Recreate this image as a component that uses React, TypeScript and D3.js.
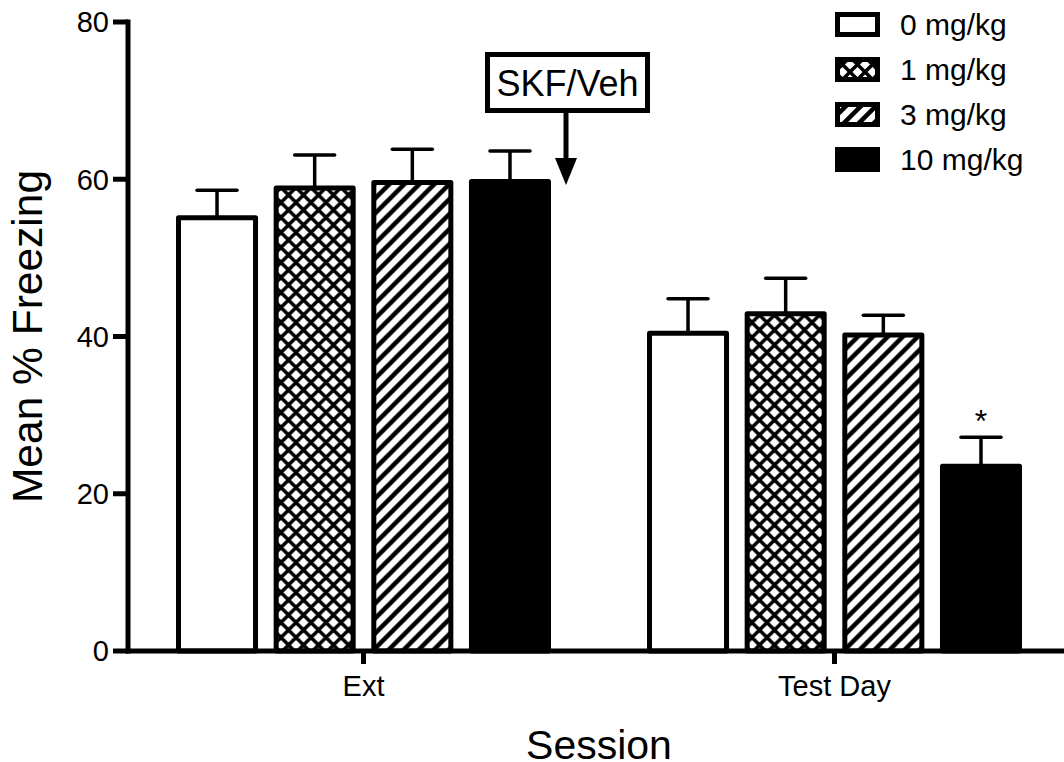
import React from "react";
import * as d3 from "d3";

const sessions = ["Ext", "Test Day"];
const series = ["0 mg/kg", "1 mg/kg", "3 mg/kg", "10 mg/kg"];
const meanExt = [55.1, 58.9, 59.6, 59.7];
const semExt = [3.5, 4.2, 4.2, 3.9];
const meanTest = [40.4, 42.9, 40.2, 23.5];
const semTest = [4.4, 4.5, 2.5, 3.7];
const yTicks = [0, 20, 40, 60, 80];
const fills = ["#fff", "url(#cross)", "url(#hatch)", "#000"];

const W = 1064, H = 762;
const FONT = "Arial, 'Liberation Sans', Helvetica, sans-serif";

export default function App() {
  const y = d3.scaleLinear().domain([0, 80]).range([651, 22]);
  const x0 = d3.scalePoint<string>().domain(sessions).range([128, 1070]).padding(0.5);
  const x1 = d3.scaleBand<string>().domain(series).range([-187.5, 187.5]).paddingInner(0.16).paddingOuter(0);
  const bw = x1.bandwidth();
  const data = [
    { s: "Ext", means: meanExt, sems: semExt },
    { s: "Test Day", means: meanTest, sems: semTest },
  ];
  const sw = 5;
  return (
    <svg width={W} height={H} style={{ display: "block", position: "absolute", left: 0, top: 0 }}>
      <defs>
        <pattern id="hatch" patternUnits="userSpaceOnUse" width={15} height={15}>
          <rect width={15} height={15} fill="#fff" />
          <path d="M-4,4 L4,-4 M0,15 L15,0 M11,19 L19,11" stroke="#000" strokeWidth={4.5} />
        </pattern>
        <pattern id="cross" patternUnits="userSpaceOnUse" width={15} height={15}>
          <rect width={15} height={15} fill="#fff" />
          <path d="M-4,4 L4,-4 M0,15 L15,0 M11,19 L19,11 M-4,11 L4,19 M0,0 L15,15 M11,-4 L19,4" stroke="#000" strokeWidth={3.5} />
        </pattern>
      </defs>
      <rect width={W} height={H} fill="#fff" />
      {data.map((g) => (
        <g key={g.s} transform={`translate(${x0(g.s)},0)`}>
          {series.map((sr, i) => {
            const xl = (x1(sr) as number) + sw / 2;
            const w = bw - sw;
            const top = y(g.means[i]);
            const errTop = y(g.means[i] + g.sems[i]);
            const cx = (x1(sr) as number) + bw / 2;
            return (
              <g key={sr}>
                <line x1={cx} x2={cx} y1={top} y2={errTop} stroke="#000" strokeWidth={3.5} />
                <line x1={cx - 20} x2={cx + 20} y1={errTop} y2={errTop} stroke="#000" strokeWidth={3.5} strokeLinecap="round" />
                <rect x={xl} y={top} width={w} height={y(0) - top} fill={fills[i]} stroke="#000" strokeWidth={sw} strokeLinejoin="round" />
              </g>
            );
          })}
        </g>
      ))}
      <text x={(x0("Test Day") as number) + (x1("10 mg/kg") as number) + bw / 2} y={y(meanTest[3] + semTest[3]) - 5} fontFamily={FONT} fontSize={32} textAnchor="middle">*</text>
      <line x1={128} x2={128} y1={y(80) - 2.5} y2={y(0) + 2.5} stroke="#000" strokeWidth={5} />
      {yTicks.map((t) => (
        <g key={t}>
          <line x1={113} x2={128} y1={y(t)} y2={y(t)} stroke="#000" strokeWidth={5} />
          <text x={109} y={y(t)} dy="0.36em" textAnchor="end" fontFamily={FONT} fontSize={29}>{t}</text>
        </g>
      ))}
      <line x1={126} x2={1064} y1={y(0)} y2={y(0)} stroke="#000" strokeWidth={5} />
      {sessions.map((s) => (
        <g key={s}>
          <line x1={x0(s)} x2={x0(s)} y1={y(0)} y2={y(0) + 13} stroke="#000" strokeWidth={5} />
          <text x={x0(s)} y={y(0) + 45} textAnchor="middle" fontFamily={FONT} fontSize={29}>{s}</text>
        </g>
      ))}
      <text x={599} y={759} textAnchor="middle" fontFamily={FONT} fontSize={41}>Session</text>
      <text transform={`translate(42,${y(40)}) rotate(-90)`} textAnchor="middle" fontFamily={FONT} fontSize={42.5}>Mean % Freezing</text>
      <rect x={487.5} y={54.5} width={160} height={56} fill="#fff" stroke="#000" strokeWidth={5} />
      <text x={567.5} y={96} textAnchor="middle" fontFamily={FONT} fontSize={36}>SKF/Veh</text>
      <line x1={566} x2={566} y1={113} y2={160} stroke="#000" strokeWidth={5} />
      <path d="M555,158 L577,158 L566,185 Z" fill="#000" />
      {series.map((sr, i) => (
        <g key={sr} transform={`translate(835,${12 + i * 45})`}>
          <rect x={2.5} y={2.5} width={40} height={20} fill={fills[i]} stroke="#000" strokeWidth={5} />
          <text x={65} y={12.5} dy="0.36em" fontFamily={FONT} fontSize={30}>{sr}</text>
        </g>
      ))}
    </svg>
  );
}
